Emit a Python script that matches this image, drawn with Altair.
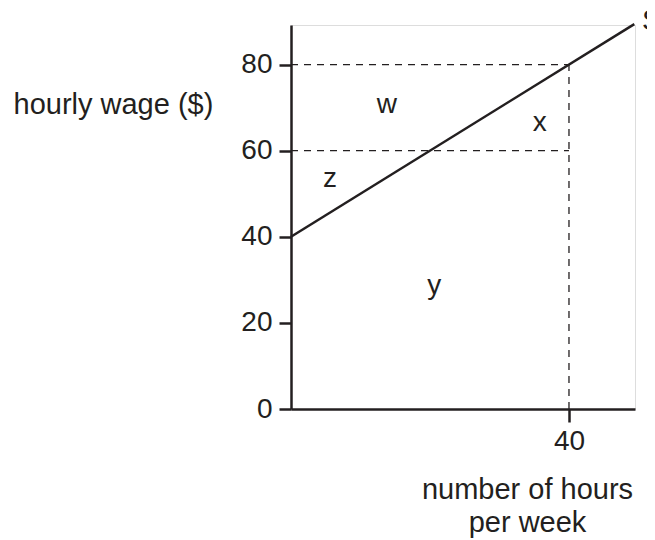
import altair as alt
import pandas as pd

INK = "#231f20"
FONT = "Liberation Sans"

# supply curve S (hours per week, hourly wage $)
s_hours = [0, 49.4]
s_wage = [40, 89.4]

# dashed guide segments
guide_x = [0, 0, 40]
guide_x2 = [40, 40, 40]
guide_y = [80, 60, 0]
guide_y2 = [80, 60, 80]

# area letters and curve label
lab_text = ["w", "x", "z", "y"]
lab_hours = [13.8, 35.8, 5.6, 20.6]
lab_wage = [68.8, 64.6, 51.6, 26.6]
curve_label = ["S"]
curve_label_hours = [50.5]
curve_label_wage = [88.1]

y_ticks = [0, 20, 40, 60, 80]
x_ticks = [40]

line_df = pd.DataFrame({"hours": s_hours, "wage": s_wage})
guide_df = pd.DataFrame({"x": guide_x, "x2": guide_x2, "y": guide_y, "y2": guide_y2})
lab_df = pd.DataFrame({"t": lab_text, "hours": lab_hours, "wage": lab_wage})
s_df = pd.DataFrame({"t": curve_label, "hours": curve_label_hours, "wage": curve_label_wage})

xscale = alt.Scale(domain=[0, 49.5], nice=False, zero=False)
yscale = alt.Scale(domain=[0, 89.2], nice=False, zero=False)

FS = 28
TFS = 29

x_axis = alt.Axis(
    values=x_ticks, grid=False, tickSize=13, tickWidth=2.5, tickColor=INK,
    domainWidth=2.5, domainColor=INK, labelFontSize=FS, labelFont=FONT,
    labelColor=INK, labelPadding=5,
    title=["number of hours", "per week"], titleFont=FONT, titleFontSize=TFS,
    titleFontWeight="normal", titleColor=INK, titleAlign="center",
    titleBaseline="alphabetic", titleX=236, titleY=89.5, titleLineHeight=33,
    zindex=1,
)
y_axis = alt.Axis(
    values=y_ticks, grid=False, tickSize=12, tickWidth=2.5, tickColor=INK,
    domainWidth=2.5, domainColor=INK, labelFontSize=FS, labelFont=FONT,
    labelColor=INK, labelPadding=7,
    title="hourly wage ($)", titleFont=FONT, titleFontSize=TFS,
    titleFontWeight="normal", titleColor=INK, titleAngle=0, titleAlign="left",
    titleBaseline="alphabetic", titleX=-278, titleY=88,
    zindex=1,
)

guides = alt.Chart(guide_df).mark_rule(
    color=INK, strokeWidth=1.3, strokeDash=[7, 6]
).encode(
    x=alt.X("x:Q", scale=xscale, axis=x_axis),
    x2="x2:Q",
    y=alt.Y("y:Q", scale=yscale, axis=y_axis),
    y2="y2:Q",
)

line = alt.Chart(line_df).mark_line(color=INK, strokeWidth=2.5).encode(
    x=alt.X("hours:Q", scale=xscale),
    y=alt.Y("wage:Q", scale=yscale),
)

labels = alt.Chart(lab_df).mark_text(
    font=FONT, fontSize=FS, color=INK, align="center", baseline="alphabetic"
).encode(
    x=alt.X("hours:Q", scale=xscale),
    y=alt.Y("wage:Q", scale=yscale),
    text="t:N",
)

s_label = alt.Chart(s_df).mark_text(
    font=FONT, fontSize=29, color=INK, align="left", baseline="alphabetic"
).encode(
    x=alt.X("hours:Q", scale=xscale),
    y=alt.Y("wage:Q", scale=yscale),
    text="t:N",
)

chart = alt.layer(guides, line, labels, s_label).properties(
    width=344,
    height=384,
    autosize=alt.AutoSizeParams(type="none"),
    padding={"left": 283, "top": 17, "right": 12, "bottom": 131},
).configure_view(stroke=None).configure(background="white")

chart.save("out.html", embed_options={"renderer": "svg", "actions": False})
